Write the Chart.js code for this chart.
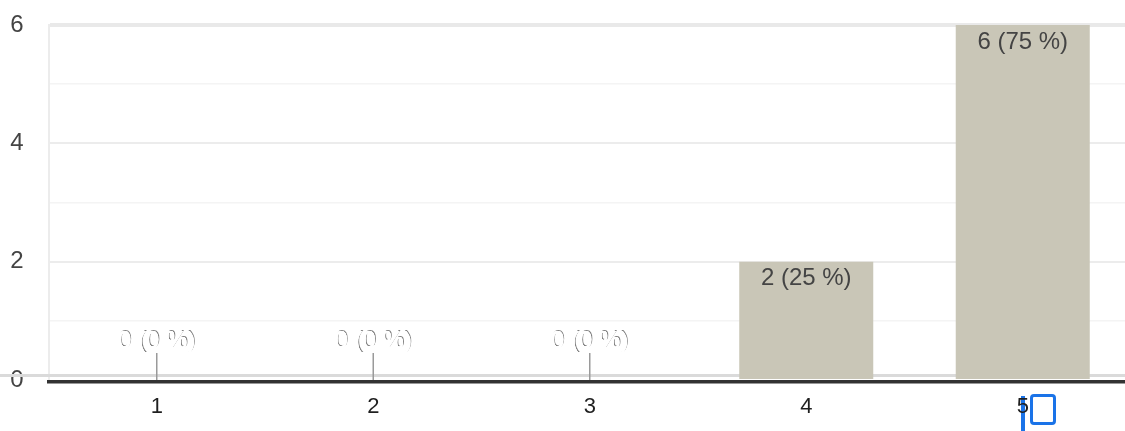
<!DOCTYPE html>
<html>
<head>
<meta charset="utf-8">
<script src="https://cdn.jsdelivr.net/npm/chart.js@4/dist/chart.umd.min.js"></script>
<style>
  html, body { margin: 0; padding: 0; background: #fff; overflow: hidden; width: 1125px; height: 431px; }
  #wrap { position: absolute; left: 0; top: 0; width: 1131px; height: 431px; }
  #chart { position: relative; z-index: 2; }
  .cur-box { position: absolute; left: 1030px; top: 394px; width: 20px; height: 25px; border: 3px solid #1a73e8; border-radius: 4px; z-index: 1; }
  .cur-bar { position: absolute; left: 1021px; top: 396px; width: 4px; height: 35px; background: #1a73e8; z-index: 1; }
</style>
</head>
<body>
<div id="wrap">
  <div class="cur-bar"></div>
  <div class="cur-box"></div>
  <canvas id="chart" width="1131" height="431"></canvas>
</div>
<script>
const categories = ['1', '2', '3', '4', '5'];
const counts = [0, 0, 0, 2, 6];
const percents = [0, 0, 0, 25, 75];
const yTickLabels = [0, 2, 4, 6];

const FONT = "'Liberation Sans', Arial, sans-serif";

const customDraw = {
  id: 'customDraw',
  beforeDatasetsDraw(chart) {
    const { ctx, scales } = chart;
    const y0 = scales.y.getPixelForValue(0);
    ctx.save();
    ctx.fillStyle = '#dadada';
    ctx.fillRect(0, y0 - 6, chart.width, 3);
    ctx.restore();
  },
  afterDatasetsDraw(chart) {
    const { ctx, chartArea, scales } = chart;
    const y0 = scales.y.getPixelForValue(0);
    const meta = chart.getDatasetMeta(0);
    ctx.save();
    ctx.font = '24px ' + FONT;
    ctx.textAlign = 'center';
    ctx.textBaseline = 'middle';
    meta.data.forEach((bar, i) => {
      const txt = counts[i] + ' (' + percents[i] + ' %)';
      if (counts[i] > 0) {
        ctx.fillStyle = '#444444';
        ctx.fillText(txt, bar.x, bar.y + 17);
      } else {
        ctx.strokeStyle = '#9a9a9a';
        ctx.lineWidth = 1.5;
        ctx.beginPath();
        ctx.moveTo(bar.x, y0 - 27);
        ctx.lineTo(bar.x, y0);
        ctx.stroke();
        ctx.save();
        ctx.shadowColor = 'rgba(0,0,0,0.5)';
        ctx.shadowOffsetX = 0.8;
        ctx.shadowOffsetY = -1;
        ctx.shadowBlur = 0;
        ctx.fillStyle = '#ffffff';
        ctx.fillText(txt, bar.x, y0 - 39);
        ctx.restore();
        ctx.fillStyle = '#ffffff';
        ctx.fillText(txt, bar.x, y0 - 38.6);
        ctx.fillText(txt, bar.x - 0.4, y0 - 39);
        ctx.fillText(txt, bar.x - 0.4, y0 - 38.6);
      }
    });
    ctx.fillStyle = '#333333';
    ctx.fillRect(chartArea.left - 1.5, y0, chart.width, 3.5);
    ctx.restore();
  }
};

new Chart(document.getElementById('chart'), {
  type: 'bar',
  data: {
    labels: categories,
    datasets: [{
      data: counts,
      backgroundColor: '#c9c6b7',
      borderWidth: 0,
      categoryPercentage: 1.0,
      barPercentage: 0.619
    }]
  },
  options: {
    responsive: false,
    animation: false,
    events: [],
    layout: { padding: { top: 25, right: 0, left: 0, bottom: 0 } },
    plugins: { legend: { display: false }, tooltip: { enabled: false } },
    scales: {
      x: {
        grid: { display: false, drawTicks: false },
        border: { display: false },
        ticks: {
          color: '#1f1f1f',
          font: { family: FONT, size: 22 },
          padding: 14,
          maxRotation: 0
        },
        afterFit(scale) { scale.height = 51; scale.paddingLeft = 0; scale.paddingRight = 0; }
      },
      y: {
        min: 0,
        max: 6,
        grid: {
          drawTicks: false,
          color(ctx) {
            const v = ctx.tick ? ctx.tick.value : 0;
            if (v === 0) return 'rgba(0,0,0,0)';
            if (v === 6) return '#e9e9e9';
            return v % 2 === 0 ? '#ececec' : '#f4f4f4';
          },
          lineWidth(ctx) {
            const v = ctx.tick ? ctx.tick.value : 0;
            if (v === 6) return 4;
            return v % 2 === 0 ? 2 : 1.5;
          }
        },
        border: { display: true, color: '#ececec', width: 2 },
        ticks: {
          stepSize: 1,
          color: '#444444',
          font: { family: FONT, size: 24 },
          padding: 25,
          callback(value) { return yTickLabels.includes(value) ? String(value) : ''; }
        },
        afterFit(scale) { scale.width = 48.5; scale.paddingTop = 0; scale.paddingBottom = 0; }
      }
    }
  },
  plugins: [customDraw]
});
</script>
</body>
</html>
